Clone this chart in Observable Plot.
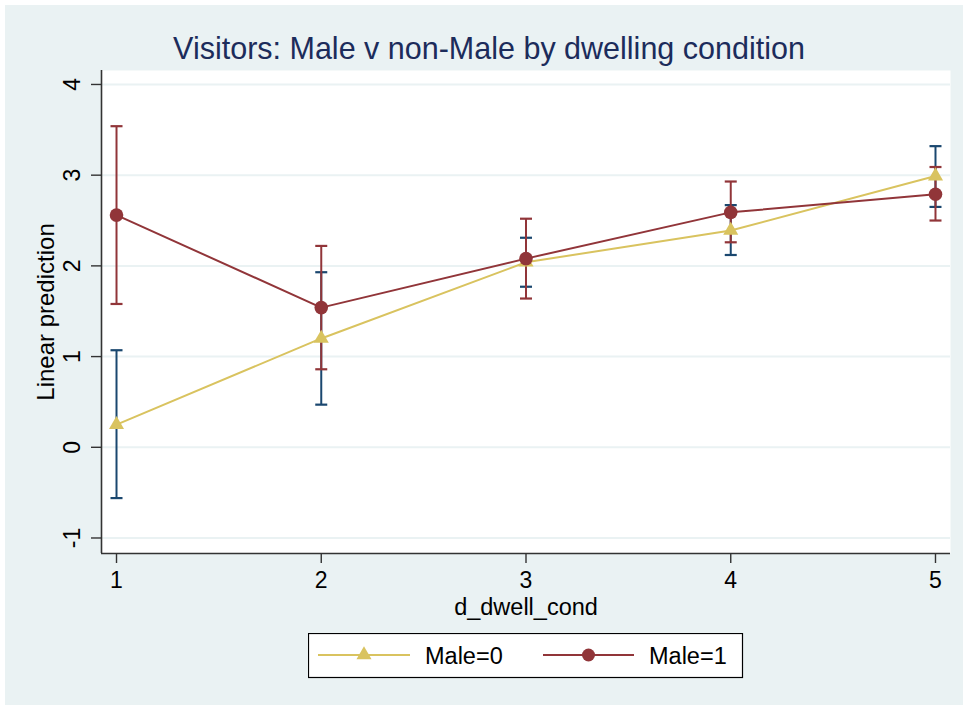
<!DOCTYPE html>
<html><head><meta charset="utf-8">
<script src="https://cdn.jsdelivr.net/npm/d3@7"></script>
<script src="https://cdn.jsdelivr.net/npm/@observablehq/plot@0.6"></script>
<style>
html,body{margin:0;padding:0;background:#fff;}
#wrap{position:relative;width:963px;height:705px;overflow:hidden;background:#fff;font-family:"Liberation Sans",Arial,sans-serif;}
#bg{position:absolute;left:5px;top:5px;right:0;bottom:0;background:#eaf2f3;}
#title{position:absolute;left:0;width:978px;top:33px;line-height:30px;text-align:center;font-size:30.5px;color:#1c2c5b;white-space:nowrap;}
#chart{position:absolute;left:0;top:60px;}
#legend{position:absolute;left:308px;top:633px;}
</style></head>
<body>
<div id="wrap"><div id="bg"></div><div id="title"></div><div id="chart"></div><div id="legend"></div></div>
<script>
const titleText = "Visitors: Male v non-Male by dwelling condition";
const xLabel = "d_dwell_cond";
const yLabel = "Linear prediction";
const seriesNames = ["Male=0", "Male=1"];
const dwell = [1, 2, 3, 4, 5];
const male0 = [0.25, 1.20, 2.04, 2.39, 2.99];
const male0Lo = [-0.56, 0.47, 1.77, 2.12, 2.65];
const male0Hi = [1.07, 1.93, 2.31, 2.67, 3.32];
const male1 = [2.56, 1.54, 2.08, 2.59, 2.79];
const male1Lo = [1.58, 0.86, 1.64, 2.26, 2.50];
const male1Hi = [3.54, 2.22, 2.52, 2.93, 3.09];
const xTicks = [1, 2, 3, 4, 5];
const yTicks = [-1, 0, 1, 2, 3, 4];
const tickFmt = d => (d < 0 ? "-" + Math.abs(d) : String(d));

const lineColors = ["#d9c35f", "#913539"];
const ciColors = ["#1a476f", "#913539"];
const xDomain = [0.9267, 5.0733];
const yDomain = [-1.171, 4.154];

const rows0 = dwell.map((x, i) => ({x, v: male0[i], lo: male0Lo[i], hi: male0Hi[i]}));
const rows1 = dwell.map((x, i) => ({x, v: male1[i], lo: male1Lo[i], hi: male1Hi[i]}));

const cap = {draw(ctx, size) { const w = Math.sqrt(size / Math.PI); ctx.moveTo(-w, 0); ctx.lineTo(w, 0); }};

document.getElementById("title").textContent = titleText;

function ciMarks(rows, color) {
  return [
    Plot.link(rows, {x1: "x", x2: "x", y1: "lo", y2: "hi", stroke: color, strokeWidth: 2}),
    Plot.dot(rows, {x: "x", y: "lo", symbol: cap, r: 6, stroke: color, fill: "none", strokeWidth: 2.2}),
    Plot.dot(rows, {x: "x", y: "hi", symbol: cap, r: 6, stroke: color, fill: "none", strokeWidth: 2.2})
  ];
}

const chart = Plot.plot({
  width: 963,
  height: 563,
  marginLeft: 101,
  marginRight: 13,
  marginTop: 10,
  marginBottom: 70,
  style: {fontFamily: "'Liberation Sans', Arial, sans-serif", background: "transparent", color: "#000"},
  x: {domain: xDomain},
  y: {domain: yDomain},
  marks: [
    Plot.frame({fill: "white", stroke: "none"}),
    Plot.gridY(yTicks, {stroke: "#eaf2f3", strokeOpacity: 1, strokeWidth: 2}),
    Plot.ruleX([xDomain[0]], {stroke: "#333", strokeWidth: 1.6}),
    Plot.ruleY([yDomain[0]], {stroke: "#333", strokeWidth: 1.6}),
    Plot.axisY(yTicks, {tickSize: 10, tickFormat: () => "", label: null, stroke: "#333", strokeWidth: 1.4}),
    Plot.axisX(xTicks, {tickSize: 10, tickFormat: () => "", label: null, stroke: "#333", strokeWidth: 1.4}),
    Plot.text(yTicks, {y: d => d, text: tickFmt, frameAnchor: "left", dx: -29, rotate: -90, textAnchor: "middle", lineAnchor: "middle", fontSize: 23}),
    Plot.text(xTicks, {x: d => d, text: tickFmt, frameAnchor: "bottom", dy: 27, textAnchor: "middle", lineAnchor: "middle", fontSize: 23}),
    Plot.text([xLabel], {text: d => d, frameAnchor: "bottom", dy: 54, lineAnchor: "middle", textAnchor: "middle", fontSize: 23.5}),
    Plot.text([yLabel], {text: d => d, frameAnchor: "left", dx: -55, rotate: -90, textAnchor: "middle", lineAnchor: "middle", fontSize: 24}),
    ...ciMarks(rows0, ciColors[0]),
    ...ciMarks(rows1, ciColors[1]),
    Plot.line(rows0, {x: "x", y: "v", stroke: lineColors[0], strokeWidth: 2}),
    Plot.dot(rows0, {x: "x", y: "v", symbol: "triangle", r: 5.6, fill: lineColors[0], stroke: "none"}),
    Plot.line(rows1, {x: "x", y: "v", stroke: lineColors[1], strokeWidth: 2}),
    Plot.dot(rows1, {x: "x", y: "v", symbol: "circle", r: 6.8, fill: lineColors[1], stroke: "none"})
  ]
});
document.getElementById("chart").appendChild(chart);

// legend
const lg = d3.select("#legend").append("svg").attr("width", 436).attr("height", 46)
  .style("font-family", "'Liberation Sans', Arial, sans-serif");
lg.append("rect").attr("x", 0.5).attr("y", 0.5).attr("width", 434).attr("height", 44).attr("fill", "white").attr("stroke", "#000").attr("stroke-width", 1.2);
const items = [
  {x0: 10, x1: 102, tx: 117, symbol: d3.symbolTriangle, size: Math.PI * 5.6 * 5.6},
  {x0: 235, x1: 326, tx: 341, symbol: d3.symbolCircle, size: Math.PI * 6.5 * 6.5}
];
items.forEach((it, i) => {
  lg.append("line").attr("x1", it.x0).attr("x2", it.x1).attr("y1", 22).attr("y2", 22).attr("stroke", lineColors[i]).attr("stroke-width", 2);
  lg.append("path").attr("d", d3.symbol(it.symbol, it.size)()).attr("transform", `translate(${(it.x0 + it.x1) / 2},22)`).attr("fill", lineColors[i]);
  lg.append("text").attr("x", it.tx).attr("y", 31).attr("font-size", 23.5).attr("fill", "#000").text(seriesNames[i]);
});
</script>
</body></html>
